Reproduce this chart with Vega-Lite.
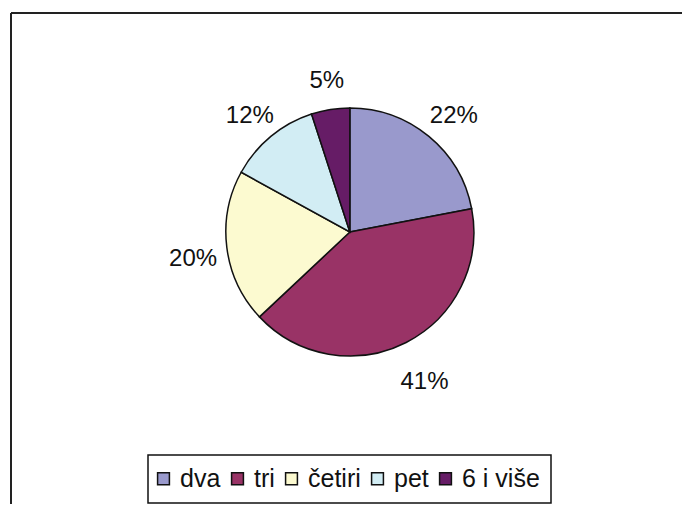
{
  "$schema": "https://vega.github.io/schema/vega-lite/v6.json",
  "autosize": {"type": "fit", "contains": "padding"},
  "width": 683,
  "height": 505,
  "padding": {"left": 10, "top": 12, "right": 0, "bottom": 0},
  "background": "white",
  "config": {
    "view": {"stroke": null},
    "font": "Liberation Sans"
  },
  "datasets": {
    "udjeli": [
      {"kategorija": "dva", "udio": 22, "oznaka": "22%", "red": 1},
      {"kategorija": "tri", "udio": 41, "oznaka": "41%", "red": 2},
      {"kategorija": "četiri", "udio": 20, "oznaka": "20%", "red": 3},
      {"kategorija": "pet", "udio": 12, "oznaka": "12%", "red": 4},
      {"kategorija": "6 i više", "udio": 5, "oznaka": "5%", "red": 5}
    ],
    "okvir": [{"okvir": "grafikon"}]
  },
  "layer": [
    {
      "data": {"name": "okvir"},
      "mark": {"type": "rule", "stroke": "#222222", "strokeWidth": 2},
      "encoding": {"y": {"value": 0}}
    },
    {
      "data": {"name": "okvir"},
      "mark": {"type": "rule", "stroke": "#222222", "strokeWidth": 2},
      "encoding": {"x": {"value": 0}}
    },
    {
      "data": {"name": "udjeli"},
      "mark": {
        "type": "arc",
        "outerRadius": 124,
        "stroke": "#111111",
        "strokeWidth": 1.5,
        "x": {"expr": "width*0.505"},
        "y": {"expr": "height*0.446"}
      },
      "encoding": {
        "theta": {"field": "udio", "type": "quantitative", "stack": true},
        "order": {"field": "red", "type": "quantitative"},
        "color": {
          "field": "kategorija",
          "type": "nominal",
          "sort": ["dva", "tri", "četiri", "pet", "6 i više"],
          "scale": {
            "domain": ["dva", "tri", "četiri", "pet", "6 i više"],
            "range": ["#9999CC", "#993366", "#FCFAD0", "#D2EDF4", "#661C66"]
          },
          "legend": {
            "title": null,
            "orient": "none",
            "legendX": 137,
            "legendY": 442,
            "direction": "horizontal",
            "columns": 5,
            "symbolType": "square",
            "symbolSize": 140,
            "symbolOffset": -8,
            "symbolStrokeColor": "#111111",
            "symbolStrokeWidth": 1.5,
            "labelFontSize": 25,
            "labelFont": "Liberation Sans",
            "labelColor": "#111111",
            "labelOffset": 4,
            "columnPadding": 7,
            "padding": 11,
            "strokeColor": "#111111",
            "encode": {"legend": {"update": {"strokeWidth": {"value": 1.5}}}}
          }
        }
      }
    },
    {
      "data": {"name": "udjeli"},
      "mark": {
        "type": "text",
        "radius": 160,
        "fontSize": 24,
        "font": "Liberation Sans",
        "color": "#111111",
        "x": {"expr": "width*0.508"},
        "y": {"expr": "height*0.4604"}
      },
      "encoding": {
        "theta": {"field": "udio", "type": "quantitative", "stack": true},
        "order": {"field": "red", "type": "quantitative"},
        "text": {"field": "oznaka", "type": "nominal"}
      }
    }
  ]
}
